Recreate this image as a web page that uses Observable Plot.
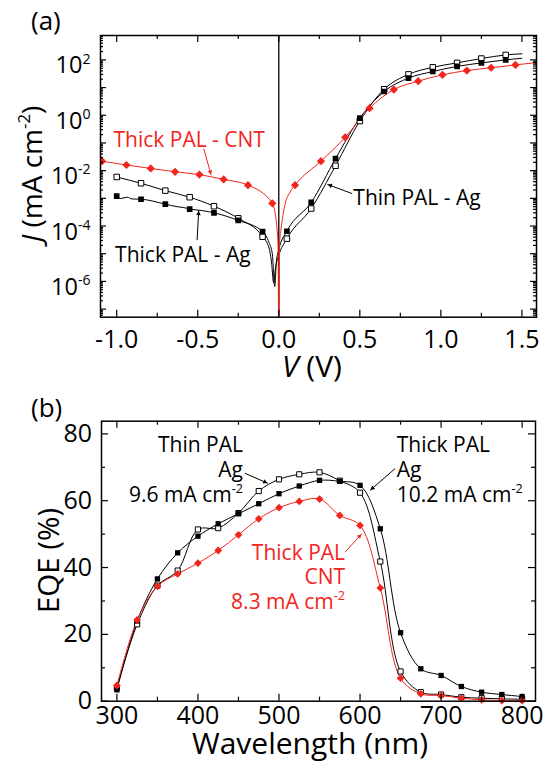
<!DOCTYPE html>
<html><head><meta charset="utf-8">
<script src="https://cdn.jsdelivr.net/npm/d3@7"></script>
<script src="https://cdn.jsdelivr.net/npm/@observablehq/plot@0.6"></script>
<style>
html,body{margin:0;padding:0;background:#fff;}
#chart{width:545px;height:765px;overflow:hidden;}
#chart svg{display:block;overflow:visible;}
</style></head><body><div id="chart"></div>
<script>
// ---------------- Panel (a): J–V, log scale ----------------
const vThickCNT = [-1.09,-0.94,-0.79,-0.64,-0.49,-0.34,-0.19,-0.04,0.10,0.26,0.41,0.56,0.71,0.86,1.01,1.16,1.31,1.46,1.60];
const jThickCNT = [2.2e-2,1.6e-2,1.2e-2,9.1e-3,7.2e-3,4.8e-3,3.0e-3,6.6e-4,3.0e-3,2.2e-2,0.16,1.8,8.5,17,29,41,52,66,81];
const vThickCNTline = [-0.01,-0.004,-0.001,0.001,0.005,0.013,0.04,0.07];
const jThickCNTline = [7e-5,1.6e-5,1e-8,1e-8,2.5e-5,7e-5,6.5e-4,1.7e-3];

const vAg = [-1.0,-0.85,-0.70,-0.55,-0.40,-0.25,-0.10,0.05,0.20,0.35,0.50,0.65,0.80,0.95,1.10,1.25,1.40];
const jThickAg = [1.2e-3,9.3e-4,6.2e-4,4.1e-4,3.0e-4,1.6e-4,6.3e-5,6.5e-5,7.1e-4,2.7e-2,0.79,7.2,22,38,58,78,100];
const vThickAgLine = [-0.975,-0.935,-0.905,-0.62,-0.59,-0.47,-0.06,-0.04,-0.025,-0.015,0.0,1.5];
const jThickAgLine = [9.8e-4,1.1e-3,9.5e-4,4.9e-4,4.7e-4,3.6e-4,2.5e-5,1.0e-5,6.5e-7,5e-6,1.4e-5,115];
const jThinAg = [5.9e-3,3.5e-3,1.9e-3,1.1e-3,5.2e-4,1.9e-4,4.1e-5,3.5e-5,4.3e-4,1.5e-2,0.62,8.7,30,54,78,112,151];
const vThinAgLine = [-0.06,-0.045,-0.032,-0.02,0.0,1.5];
const jThinAgLine = [1.6e-5,5e-6,9e-7,3.2e-6,8.9e-6,166];

const xTickLabelsA = [-1.0,-0.5,0.0,0.5,1.0,1.5];
const xTickMinorA = [-0.75,-0.25,0.25,0.75,1.25];
const yTickLabelsA = [1e-6,1e-4,1e-2,1e0,1e2];
const yTickDecadesA = [1e-7,1e-6,1e-5,1e-4,1e-3,1e-2,1e-1,1e0,1e1,1e2];

const annAText = ["Thick PAL - CNT","Thick PAL - Ag","Thin PAL - Ag"];
const annAx = [-1.02,-1.01,0.46];
const annAy = [0.123,8.9e-6,1.0e-3];
const annAcol = ["red","black","black"];
const arrAx1 = [-0.463,-0.504,0.453], arrAy1 = [0.062,3.1e-5,1.48e-3];
const arrAx2 = [-0.417,-0.494,0.299], arrAy2 = [6.8e-3,3.7e-4,3.2e-3];
const arrAcol = ["red","black","black"];

// ---------------- Panel (b): EQE ----------------
const wl = [300,325,350,375,400,425,450,475,500,525,550,575,600,625,650,675,700,725,750,775,800];
const eqeThickAg  = [3.4,24.0,36.6,44.4,49.4,53.1,56.1,59.1,62.1,64.4,66.1,65.8,64.6,51.6,20.5,9.7,7.7,4.4,2.7,2.0,1.4];
const eqeThinAg   = [4.0,23.0,34.6,39.1,51.4,51.8,56.3,62.9,66.4,67.9,68.5,66.0,62.4,41.8,8.9,2.7,2.0,1.2,0.9,0.7,0.6];
const eqeThickCNT = [4.7,24.3,34.4,38.1,41.3,45.1,49.8,54.6,57.9,59.8,60.5,55.6,52.6,33.9,6.9,2.2,1.7,0.9,0.4,0.2,0.2];
const wlCNTline = [816], eqeCNTline = [0.1];

const xTickLabelsB = [300,400,500,600,700,800];
const xTickMinorB = [350,450,550,650,750];
const yTickLabelsB = [0,20,40,60,80];
const yTickMinorB = [10,30,50,70];

const annBText = ["Thin PAL","Ag","9.6 mA cm^{-2}","Thick PAL","Ag","10.2 mA cm^{-2}","Thick PAL","CNT","8.3 mA cm^{-2}"];
const annBx = [455.6,455.6,455.6,645.3,645.3,645.3,581.5,581.5,581.5];
const annBy = [76.5,69.1,61.6,76.5,69.1,61.6,44.2,37.0,29.6];
const annBanchor = ["end","end","end","start","start","start","end","end","end"];
const annBcol = ["black","black","black","black","black","black","red","red","red"];
const arrBx1 = [458,643.2,581.5], arrBy1 = [68.2,69.6,44.6];
const arrBx2 = [486.4,612.3,602.1], arrBy2 = [65.2,63.1,50.1];
const arrBcol = ["black","black","red"];

// ---------------- helpers ----------------
const RED = "#f3241c";
const colorOf = c => c === "red" ? RED : "#000";
const FONT = "'Open Sans', sans-serif";
const pts = (xs, ys) => xs.map((x, i) => ({x, y: ys[i]}));
const merged = (a, b) => a.concat(b).sort((p, q) => p.x - q.x);
function minorLog(decades) {
  const out = [];
  for (const d of decades) for (let k = 2; k <= 9; k++) out.push(d * k);
  return out;
}
function frameTicks(xT, yT, lx, ly, iW, iH) {
  const s = {stroke: "#000", strokeWidth: 1.2};
  const m = [];
  if (xT) m.push(Plot.tickX(xT, {x: d => d, insetTop: iH - lx, ...s}), Plot.tickX(xT, {x: d => d, insetBottom: iH - lx, ...s}));
  if (yT) m.push(Plot.tickY(yT, {y: d => d, insetRight: iW - ly, ...s}), Plot.tickY(yT, {y: d => d, insetLeft: iW - ly, ...s}));
  return m;
}
// arrowheads: filled triangles placed with the library's own scales
function arrowMarks(base, x1s, y1s, x2s, y2s, cols) {
  const probe = Plot.plot({...base, marks: [Plot.frame()]});
  const sx = probe.scale("x"), sy = probe.scale("y");
  const heads = x1s.map((x1, i) => {
    const a = [sx.apply(x1), sy.apply(y1s[i])], b = [sx.apply(x2s[i]), sy.apply(y2s[i])];
    const dx = b[0] - a[0], dy = b[1] - a[1], L = Math.hypot(dx, dy);
    const ux = dx / L, uy = dy / L;
    return {x: sx.invert(b[0] - ux * 3.4), y: sy.invert(b[1] - uy * 3.4),
            rot: Math.atan2(uy, ux) * 180 / Math.PI + 90, c: colorOf(cols[i])};
  });
  return [
    Plot.link(x1s, {x1: x1s, y1: y1s, x2: x2s, y2: y2s, stroke: cols.map(colorOf), strokeWidth: 1}),
    Plot.dot(heads, {x: "x", y: "y", rotate: "rot", symbol: "triangle2", r: 2.2, fill: "c", stroke: "none"})
  ];
}
function richify(svg) {
  svg.querySelectorAll("text").forEach(el => {
    const s = el.textContent;
    if (!/\^\{|\*/.test(s)) return;
    const fs = parseFloat(getComputedStyle(el).fontSize) || 20;
    el.textContent = "";
    const parts = s.split(/(\^\{[^}]*\}|\*[^*]+\*)/).filter(p => p);
    let raised = 0;
    for (const p of parts) {
      const ts = document.createElementNS("http://www.w3.org/2000/svg", "tspan");
      if (p.startsWith("^{")) {
        ts.textContent = p.slice(2, -1);
        ts.setAttribute("font-size", (fs * 0.6).toFixed(1));
        ts.setAttribute("dy", (-fs * 0.42).toFixed(1));
        raised = fs * 0.42;
      } else {
        const it = p.startsWith("*") && p.endsWith("*") && p.length > 2;
        ts.textContent = it ? p.slice(1, -1) : p;
        if (it) ts.setAttribute("font-style", "italic");
        if (raised) { ts.setAttribute("dy", raised.toFixed(1)); raised = 0; }
      }
      el.appendChild(ts);
    }
  });
}
function addText(svg, {x, y, text, size, rotate = 0, anchor = "middle"}) {
  d3.select(svg).append("text")
    .attr("transform", `translate(${x},${y}) rotate(${rotate})`)
    .attr("text-anchor", anchor)
    .attr("font-family", FONT)
    .attr("font-size", size)
    .attr("fill", "#000")
    .text(text);
}

// ---------------- Panel (a) ----------------
const aH = 380, aMT = 35, aMB = 63.3, aML = 100, aMR = 9;
const aIH = aH - aMT - aMB, aIW = 545 - aML - aMR;
const lineCNT = merged(pts(vThickCNT, jThickCNT), pts(vThickCNTline, jThickCNTline));
const lineThick = merged(pts(vAg, jThickAg), pts(vThickAgLine, jThickAgLine));
const lineThin = merged(pts(vAg, jThinAg), pts(vThinAgLine, jThinAgLine));
const baseA = {
  width: 545, height: aH, marginTop: aMT, marginBottom: aMB, marginLeft: aML, marginRight: aMR,
  style: {fontFamily: FONT, background: "#fff", color: "#000"},
  x: {domain: [-1.1, 1.59]},
  y: {type: "log", domain: [5.1e-8, 760]},
  color: {type: "identity"}
};
const yMinorA = minorLog([1e-8,1e-7,1e-6,1e-5,1e-4,1e-3,1e-2,1e-1,1e0,1e1,1e2]).filter(v => v >= 5.1e-8 && v <= 760);

const svgA = Plot.plot({
  ...baseA,
  marks: [
    Plot.ruleX([0], {stroke: "#000", strokeWidth: 1.3}),
    Plot.line(lineThin, {x: "x", y: "y", stroke: "#000", strokeWidth: 1, curve: "monotone-x", clip: true}),
    Plot.line(lineThick, {x: "x", y: "y", stroke: "#000", strokeWidth: 1, curve: "monotone-x", clip: true}),
    Plot.line(lineCNT, {x: "x", y: "y", stroke: RED, strokeWidth: 1, curve: "monotone-x", clip: true}),
    Plot.dot(pts(vAg, jThinAg), {x: "x", y: "y", symbol: "square", r: 3.1, fill: "#fff", stroke: "#000", strokeWidth: 1, clip: true}),
    Plot.dot(pts(vAg, jThickAg), {x: "x", y: "y", symbol: "square", r: 3.2, fill: "#000", stroke: "none", clip: true}),
    Plot.dot(pts(vThickCNT, jThickCNT), {x: "x", y: "y", symbol: "diamond2", r: 3.7, fill: RED, stroke: "none", clip: true}),
    Plot.frame({stroke: "#000", strokeWidth: 1.5}),
    ...frameTicks(xTickLabelsA, yTickDecadesA, 7, 6, aIW, aIH),
    ...frameTicks(xTickMinorA, yMinorA, 4, 3, aIW, aIH),
    Plot.axisX(xTickLabelsA, {anchor: "bottom", tickSize: 0, tickPadding: 13, fontSize: 25, label: null, tickFormat: d => d.toFixed(1)}),
    Plot.axisY(yTickLabelsA, {anchor: "left", tickSize: 0, tickPadding: 10, fontSize: 23.5, dy: 6, label: null,
      tickFormat: d => "10^{" + Math.round(Math.log10(d)) + "}"}),
    Plot.text(annAText, {x: annAx, y: annAy, text: annAText, fill: annAcol.map(colorOf), textAnchor: "start", fontSize: 21}),
    ...arrowMarks(baseA, arrAx1, arrAy1, arrAx2, arrAy2, arrAcol)
  ]
});

// ---------------- Panel (b) ----------------
const bH = 385, bMT = 40.7, bMB = 64.3, bML = 101, bMR = 10;
const bIH = bH - bMT - bMB, bIW = 545 - bML - bMR;
const baseB = {
  width: 545, height: bH, marginTop: bMT, marginBottom: bMB, marginLeft: bML, marginRight: bMR,
  style: {fontFamily: FONT, background: "#fff", color: "#000"},
  x: {domain: [281, 816.5]},
  y: {domain: [0, 83.8]},
  color: {type: "identity"}
};
const svgB = Plot.plot({
  ...baseB,
  marks: [
    Plot.line(pts(wl, eqeThinAg), {x: "x", y: "y", stroke: "#000", strokeWidth: 1, curve: "catmull-rom", clip: true}),
    Plot.line(pts(wl, eqeThickAg), {x: "x", y: "y", stroke: "#000", strokeWidth: 1, curve: "catmull-rom", clip: true}),
    Plot.line(merged(pts(wl, eqeThickCNT), pts(wlCNTline, eqeCNTline)), {x: "x", y: "y", stroke: RED, strokeWidth: 1, curve: "catmull-rom", clip: true}),
    Plot.dot(pts(wl, eqeThinAg), {x: "x", y: "y", symbol: "square", r: 2.9, fill: "#fff", stroke: "#000", strokeWidth: 1}),
    Plot.dot(pts(wl, eqeThickAg), {x: "x", y: "y", symbol: "square", r: 3.0, fill: "#000", stroke: "none"}),
    Plot.dot(pts(wl, eqeThickCNT), {x: "x", y: "y", symbol: "diamond2", r: 3.5, fill: RED, stroke: "none"}),
    Plot.frame({stroke: "#000", strokeWidth: 1.5}),
    ...frameTicks(xTickLabelsB, yTickLabelsB, 7, 7, bIW, bIH),
    ...frameTicks(xTickMinorB, yTickMinorB, 4, 4, bIW, bIH),
    Plot.axisX(xTickLabelsB, {anchor: "bottom", tickSize: 0, tickPadding: 5, fontSize: 25, label: null}),
    Plot.axisY(yTickLabelsB, {anchor: "left", tickSize: 0, tickPadding: 9.5, fontSize: 25, label: null}),
    Plot.text(annBText, {x: annBx, y: annBy, text: annBText, fill: annBcol.map(colorOf), filter: (d, i) => annBanchor[i] === "end", textAnchor: "end", fontSize: 21}),
    Plot.text(annBText, {x: annBx, y: annBy, text: annBText, fill: annBcol.map(colorOf), filter: (d, i) => annBanchor[i] === "start", textAnchor: "start", fontSize: 21}),
    ...arrowMarks(baseB, arrBx1, arrBy1, arrBx2, arrBy2, arrBcol)
  ]
});

const chart = document.getElementById("chart");
chart.append(svgA, svgB);

addText(svgA, {x: 42, y: 174, text: "*J* (mA cm^{-2})", size: 28, rotate: -90});
addText(svgA, {x: 312, y: 377, text: "*V* (V)", size: 30});
addText(svgA, {x: 31, y: 30, text: "(a)", size: 26, anchor: "start"});
addText(svgB, {x: 58.5, y: 180.5, text: "EQE (%)", size: 29.5, rotate: -90});
addText(svgB, {x: 310, y: 374, text: "Wavelength (nm)", size: 30});
addText(svgB, {x: 31, y: 36.5, text: "(b)", size: 26, anchor: "start"});

richify(svgA);
richify(svgB);
</script>
</body></html>
